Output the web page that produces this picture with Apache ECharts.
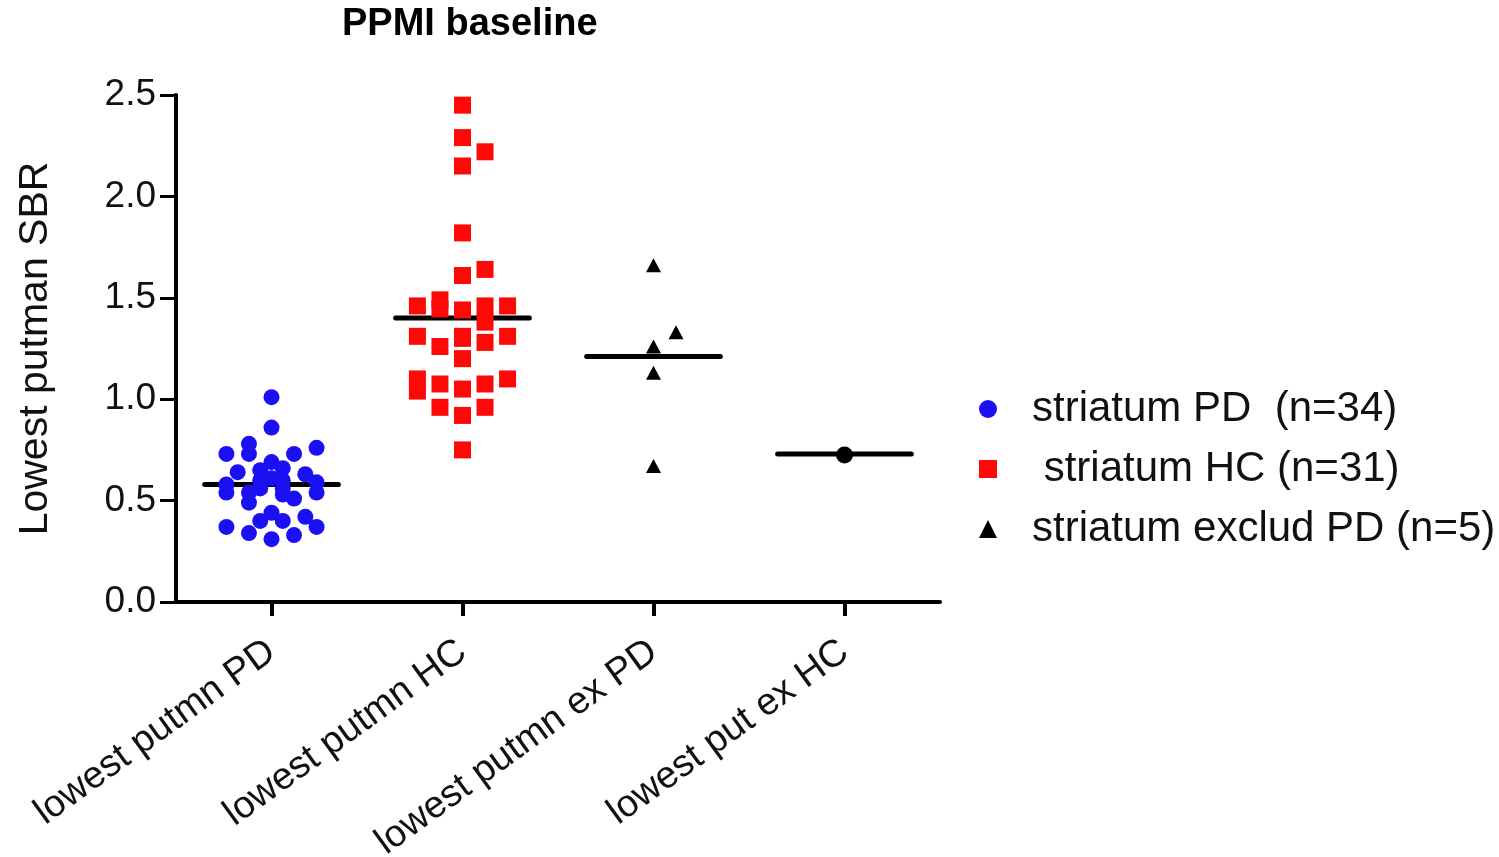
<!DOCTYPE html>
<html>
<head>
<meta charset="utf-8">
<script src="https://cdn.jsdelivr.net/npm/echarts@6/dist/echarts.min.js"></script>
<style>
  html, body { margin: 0; padding: 0; background: #fff; }
  #main { width: 1499px; height: 857px; }
</style>
</head>
<body>
<div id="main"></div>
<script>
// categories on the x axis
var categories = ['lowest putmn PD', 'lowest putmn HC', 'lowest putmn ex PD', 'lowest put ex HC'];
var seriesNames = ['striatum PD  (n=34)', ' striatum HC (n=31)', 'striatum exclud PD (n=5)'];
var yTicks = [0, 0.5, 1.0, 1.5, 2.0, 2.5];

// points as [lane, value]; lane = column of the dot plot inside the category
var pdPoints = [
    [0, 1.01], [0, 0.86], [-2, 0.73], [-1, 0.78], [-1, 0.73], [1, 0.73], [2, 0.76],
    [0, 0.69], [-1.5, 0.64], [-0.5, 0.65], [0.5, 0.66], [0, 0.61], [1.5, 0.63], [2, 0.59],
    [-2, 0.54], [-1, 0.54], [-1, 0.49], [-0.5, 0.56], [0.5, 0.56], [1, 0.51], [2, 0.54], [0.5, 0.53],
    [-2, 0.58], [-0.5, 0.60], [0.5, 0.60],
    [0, 0.44], [-0.5, 0.40], [0.5, 0.40], [1.5, 0.42], [2, 0.37], [-2, 0.37], [-1, 0.34], [0, 0.31], [1, 0.33]
];
var hcPoints = [
    [0, 2.45], [0, 2.29], [1, 2.22], [0, 2.15], [0, 1.82], [0, 1.61], [1, 1.64],
    [-2, 1.46], [-1, 1.49], [-1, 1.445], [0, 1.44], [1, 1.46], [1, 1.38], [2, 1.46],
    [-2, 1.31], [-1, 1.26], [0, 1.31], [0, 1.30], [0, 1.20], [1, 1.28], [2, 1.31],
    [-2, 1.10], [-2, 1.04], [-1, 1.075], [0, 1.05], [1, 1.075], [2, 1.10],
    [-1, 0.96], [0, 0.92], [1, 0.96], [0, 0.75]
];
var exPdPoints = [[0, 1.66], [1, 1.33], [0, 1.26], [0, 1.13], [0, 0.67]];
var exHcPoints = [[0, 0.725]];
var groupMeans = [0.58, 1.40, 1.21, 0.73];

var laneStep = 0.118;
function place(points, catIndex) {
    return points.map(function (p) {
        return [catIndex + 0.5 + p[0] * laneStep, p[1]];
    });
}

var chartDom = document.getElementById('main');
var myChart = echarts.init(chartDom);
var font = '"Liberation Sans", Arial, sans-serif';

var option = {
    animation: false,
    title: {
        text: 'PPMI baseline',
        left: 337,
        top: 1,
        textStyle: { fontFamily: font, fontSize: 38, fontWeight: 'bold', color: '#000' }
    },
    legend: {
        orient: 'vertical',
        left: 974,
        top: 383,
        itemGap: 18,
        itemWidth: 18,
        itemHeight: 18,
        data: [
            { name: seriesNames[0], icon: 'circle' },
            { name: seriesNames[1], icon: 'rect' },
            { name: seriesNames[2], icon: 'triangle' }
        ],
        textStyle: { fontFamily: font, fontSize: 42, color: '#111', padding: [0, 0, 0, 30] }
    },
    grid: {
        left: 176, top: 95, width: 764, height: 507,
        containLabel: false,
        outerBoundsMode: 'none'
    },
    xAxis: [
        {
            type: 'category',
            data: categories,
            axisLine: { lineStyle: { color: '#000', width: 4 } },
            axisTick: { show: true, alignWithLabel: true, length: 14, lineStyle: { color: '#000', width: 4 } },
            axisLabel: { rotate: 36, margin: 46, fontFamily: font, fontSize: 38, color: '#111' }
        },
        { type: 'value', min: 0, max: 4, show: false }
    ],
    yAxis: {
        type: 'value',
        min: 0,
        max: 2.5,
        interval: 0.5,
        name: 'Lowest putman SBR',
        nameLocation: 'middle',
        nameGap: 120,
        nameTextStyle: { fontFamily: font, fontSize: 41, color: '#111' },
        splitLine: { show: false },
        axisLine: { show: true, lineStyle: { color: '#000', width: 4 } },
        axisTick: { show: true, length: 16, lineStyle: { color: '#000', width: 3 } },
        axisLabel: {
            margin: 20,
            fontFamily: font, fontSize: 37, color: '#111',
            formatter: function (v) { return yTicks.indexOf(v) >= 0 ? v.toFixed(1) : ''; }
        }
    },
    series: [
        {
            type: 'custom',
            xAxisIndex: 1,
            z: 1,
            data: groupMeans.map(function (m, i) { return [i, m]; }),
            renderItem: function (params, api) {
                var i = api.value(0), m = api.value(1);
                var a = api.coord([i + 0.5 - 0.35, m]);
                var b = api.coord([i + 0.5 + 0.35, m]);
                return {
                    type: 'line',
                    shape: { x1: a[0], y1: a[1], x2: b[0], y2: b[1] },
                    style: { stroke: '#000', lineWidth: 5, lineCap: 'round' }
                };
            }
        },
        {
            name: seriesNames[0], type: 'scatter', xAxisIndex: 1, z: 3,
            symbol: 'circle', symbolSize: 16,
            itemStyle: { color: '#1a10f2', opacity: 1 },
            data: place(pdPoints, 0)
        },
        {
            name: seriesNames[1], type: 'scatter', xAxisIndex: 1, z: 3,
            symbol: 'rect', symbolSize: 17,
            itemStyle: { color: '#ff0808', opacity: 1 },
            data: place(hcPoints, 1)
        },
        {
            name: seriesNames[2], type: 'scatter', xAxisIndex: 1, z: 3,
            symbol: 'triangle', symbolSize: [15, 14],
            itemStyle: { color: '#000', opacity: 1 },
            data: place(exPdPoints, 2)
        },
        {
            name: 'striatum exclud HC', type: 'scatter', xAxisIndex: 1, z: 3,
            symbol: 'circle', symbolSize: 17,
            itemStyle: { color: '#000', opacity: 1 },
            data: place(exHcPoints, 3)
        }
    ]
};

option && myChart.setOption(option);
</script>
</body>
</html>
